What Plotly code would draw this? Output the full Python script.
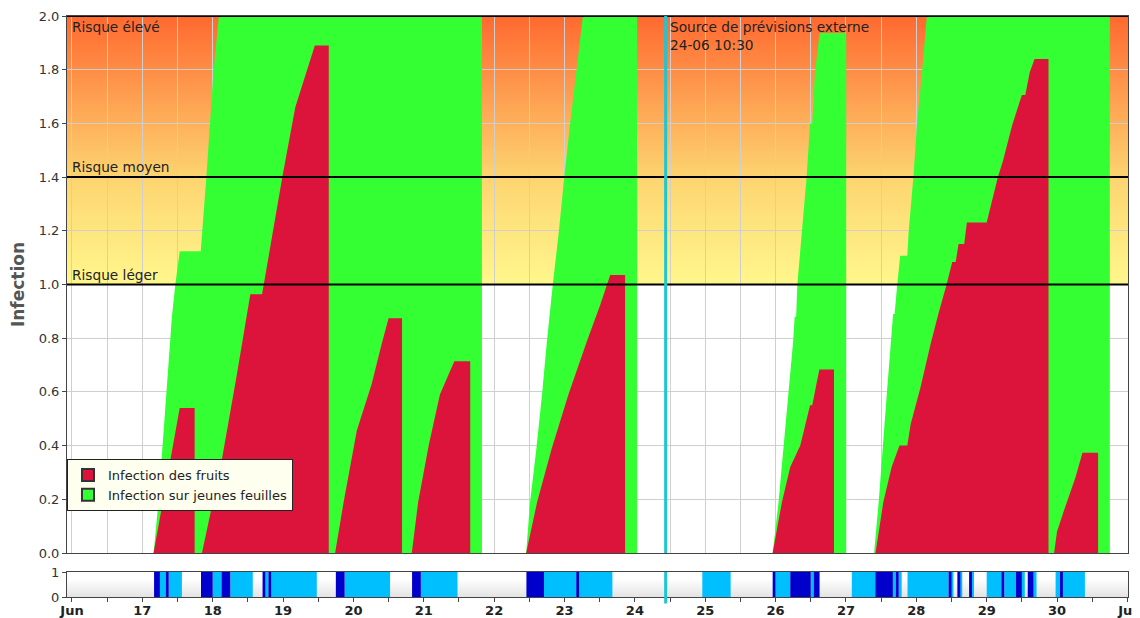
import plotly.graph_objects as go
import pandas as pd

# ---------------- data ----------------
fruit_t = [
    "2024-06-17 03:50", "2024-06-17 12:45", "2024-06-17 17:50", "2024-06-17 17:50",
    "2024-06-17 20:20", "2024-06-18 03:10", "2024-06-18 08:20", "2024-06-18 12:50", "2024-06-18 16:50",
    "2024-06-18 17:25", "2024-06-18 23:45", "2024-06-19 04:10", "2024-06-19 10:50", "2024-06-19 15:35", "2024-06-19 15:35",
    "2024-06-19 17:45", "2024-06-19 20:40", "2024-06-20 01:10", "2024-06-20 06:15", "2024-06-20 09:35",
    "2024-06-20 12:00", "2024-06-20 16:35", "2024-06-20 16:35",
    "2024-06-20 19:55", "2024-06-20 22:05", "2024-06-21 01:40", "2024-06-21 05:30", "2024-06-21 10:25",
    "2024-06-21 15:50", "2024-06-21 15:50",
    "2024-06-22 10:55", "2024-06-22 14:40", "2024-06-22 19:40", "2024-06-23 01:20", "2024-06-23 07:40",
    "2024-06-23 12:10", "2024-06-23 15:35", "2024-06-23 20:40", "2024-06-23 20:40",
    "2024-06-25 23:00", "2024-06-26 02:10", "2024-06-26 05:00", "2024-06-26 08:25", "2024-06-26 11:45",
    "2024-06-26 12:30", "2024-06-26 14:55", "2024-06-26 19:55", "2024-06-26 19:55",
    "2024-06-27 10:05", "2024-06-27 12:45", "2024-06-27 15:35", "2024-06-27 18:15", "2024-06-27 20:55",
    "2024-06-27 22:05", "2024-06-28 01:25", "2024-06-28 04:50", "2024-06-28 07:40", "2024-06-28 10:20",
    "2024-06-28 12:15", "2024-06-28 13:25", "2024-06-28 14:25", "2024-06-28 16:20", "2024-06-28 17:15",
    "2024-06-29 00:00", "2024-06-29 02:25", "2024-06-29 03:50", "2024-06-29 05:30", "2024-06-29 08:40",
    "2024-06-29 12:00", "2024-06-29 13:10", "2024-06-29 14:40", "2024-06-29 16:20", "2024-06-29 21:05",
    "2024-06-29 21:05",
    "2024-06-29 23:00", "2024-06-30 00:00", "2024-06-30 02:25", "2024-06-30 06:15", "2024-06-30 08:40",
    "2024-06-30 14:00", "2024-06-30 14:00",
]
fruit_v = [
    0, 0.54, 0.54, 0,
    0, 0.35, 0.67, 0.964, 0.964, 1.0, 1.4, 1.66, 1.89, 1.89, 0,
    0, 0.19, 0.456, 0.63, 0.777, 0.874, 0.874, 0,
    0, 0.19, 0.40, 0.59, 0.714, 0.714, 0,
    0, 0.19, 0.39, 0.59, 0.79, 0.924, 1.035, 1.035, 0,
    0, 0.19, 0.32, 0.40, 0.55, 0.55, 0.683, 0.683, 0,
    0, 0.19, 0.32, 0.40, 0.40, 0.48, 0.616, 0.777, 0.897, 1.0, 1.084, 1.084, 1.151, 1.151, 1.231,
    1.231, 1.338, 1.4, 1.458, 1.592, 1.706, 1.706, 1.79, 1.84, 1.84, 0,
    0, 0.08, 0.16, 0.28, 0.373, 0.373, 0,
]

leaf_t = [
    "2024-06-17 03:50", "2024-06-17 05:30", "2024-06-17 08:10", "2024-06-17 10:05", "2024-06-17 11:15",
    "2024-06-17 12:45", "2024-06-17 19:55", "2024-06-17 21:50", "2024-06-18 00:15", "2024-06-18 02:05",
    "2024-06-18 03:35", "2024-06-21 19:50", "2024-06-21 19:50",
    "2024-06-22 10:55", "2024-06-22 12:15", "2024-06-22 14:25", "2024-06-22 16:20", "2024-06-22 18:00",
    "2024-06-22 20:00", "2024-06-22 22:00", "2024-06-22 23:55", "2024-06-23 01:55", "2024-06-23 04:00",
    "2024-06-23 06:15", "2024-06-23 07:40", "2024-06-24 00:45", "2024-06-24 00:45",
    "2024-06-25 23:00", "2024-06-26 01:00", "2024-06-26 02:40", "2024-06-26 04:20", "2024-06-26 06:00",
    "2024-06-26 06:30", "2024-06-26 07:00", "2024-06-26 07:25", "2024-06-26 08:55", "2024-06-26 10:35",
    "2024-06-26 11:45", "2024-06-26 12:30", "2024-06-26 13:25", "2024-06-26 15:00", "2024-06-27 00:05",
    "2024-06-27 00:05",
    "2024-06-27 09:35", "2024-06-27 11:10", "2024-06-27 13:55", "2024-06-27 16:05", "2024-06-27 16:35",
    "2024-06-27 17:30", "2024-06-27 18:30", "2024-06-27 20:55", "2024-06-27 21:20", "2024-06-27 23:00",
    "2024-06-28 00:15", "2024-06-28 01:55", "2024-06-28 03:35", "2024-06-28 04:50", "2024-06-30 18:00",
    "2024-06-30 18:00",
]
leaf_v = [
    0, 0.19, 0.59, 0.88, 1.0, 1.124, 1.124, 1.4, 1.79, 2.0, 2.2, 2.2, 0,
    0, 0.19, 0.39, 0.59, 0.79, 1.0, 1.19, 1.4, 1.6, 1.79, 2.0, 2.2, 2.2, 0,
    0, 0.19, 0.39, 0.59, 0.79, 0.88, 0.88, 1.0, 1.19, 1.4, 1.6, 1.6, 1.79, 1.937, 1.937, 0,
    0, 0.19, 0.59, 0.89, 0.89, 1.0, 1.107, 1.107, 1.19, 1.4, 1.6, 1.79, 2.0, 2.2, 2.2, 0,
]

# wetness periods (bottom strip)
dark_start = ["2024-06-17 04:00", "2024-06-17 08:00", "2024-06-17 20:00", "2024-06-18 03:00", "2024-06-18 17:00",
              "2024-06-18 19:00", "2024-06-19 18:00", "2024-06-20 20:00", "2024-06-22 11:00", "2024-06-23 04:00",
              "2024-06-25 23:00", "2024-06-26 05:00", "2024-06-26 13:00", "2024-06-27 10:00", "2024-06-27 17:00",
              "2024-06-28 11:00", "2024-06-28 14:00", "2024-06-28 18:00", "2024-06-29 05:00", "2024-06-29 10:00",
              "2024-06-29 14:00", "2024-06-30 01:00"]
dark_end = ["2024-06-17 06:00", "2024-06-17 09:00", "2024-06-18 00:00", "2024-06-18 06:00", "2024-06-18 18:00",
            "2024-06-18 20:00", "2024-06-19 21:00", "2024-06-20 23:00", "2024-06-22 17:00", "2024-06-23 05:00",
            "2024-06-26 00:00", "2024-06-26 12:00", "2024-06-26 15:00", "2024-06-27 16:00", "2024-06-27 18:00",
            "2024-06-28 12:00", "2024-06-28 15:00", "2024-06-28 19:00", "2024-06-29 06:00", "2024-06-29 12:00",
            "2024-06-29 16:00", "2024-06-30 02:00"]
light_start = ["2024-06-17 06:00", "2024-06-17 09:00", "2024-06-18 00:00", "2024-06-18 06:00", "2024-06-18 18:00",
               "2024-06-18 20:00", "2024-06-19 21:00", "2024-06-20 23:00", "2024-06-22 17:00", "2024-06-23 05:00",
               "2024-06-24 23:00", "2024-06-26 00:00", "2024-06-26 12:00", "2024-06-27 02:00", "2024-06-27 16:00",
               "2024-06-27 18:00", "2024-06-27 21:00", "2024-06-28 12:00", "2024-06-28 15:00", "2024-06-28 19:00",
               "2024-06-29 00:00", "2024-06-29 06:00", "2024-06-29 12:00", "2024-06-29 16:00", "2024-06-29 23:30",
               "2024-06-30 02:00"]
light_end = ["2024-06-17 08:00", "2024-06-17 13:30", "2024-06-18 03:00", "2024-06-18 13:40", "2024-06-18 19:00",
             "2024-06-19 11:30", "2024-06-20 12:30", "2024-06-21 11:30", "2024-06-23 04:00", "2024-06-23 16:20",
             "2024-06-25 08:40", "2024-06-26 05:00", "2024-06-26 13:00", "2024-06-27 10:00", "2024-06-27 17:00",
             "2024-06-27 19:00", "2024-06-28 11:00", "2024-06-28 12:40", "2024-06-28 15:40", "2024-06-28 19:40",
             "2024-06-29 05:00", "2024-06-29 10:00", "2024-06-29 13:00", "2024-06-29 17:00", "2024-06-30 01:00",
             "2024-06-30 09:30"]

day_labels = ["Jun", "17", "18", "19", "20", "21", "22", "23", "24", "25", "26", "27", "28", "29", "30", "Jul"]
risk_levels = [1.0, 1.4, 2.0]
risk_labels = ["Risque léger", "Risque moyen", "Risque élevé"]
forecast_time = "2024-06-24 10:30"
forecast_label = "Source de prévisions externe<br>24-06 10:30"
series_names = ["Infection des fruits", "Infection sur jeunes feuilles"]
x_range = ["2024-06-15 22:18", "2024-07-01 00:12"]

# ---------------- styles ----------------
FONT = "DejaVu Sans"
RED = "#DC143C"
GREEN = "#33FF33"
DARK_BLUE = "#0000CC"
LIGHT_BLUE = "#00BFFF"
CYAN = "#1CC6D2"
GRID = "#CFCFCF"
AXIS = "#444444"

fig = go.Figure()

# areas
fig.add_trace(go.Scatter(x=pd.to_datetime(leaf_t), y=leaf_v, mode="none", fill="tozeroy",
                         fillcolor=GREEN, showlegend=False, hoverinfo="skip", xaxis="x", yaxis="y"))
fig.add_trace(go.Scatter(x=pd.to_datetime(fruit_t), y=fruit_v, mode="none", fill="tozeroy",
                         fillcolor=RED, showlegend=False, hoverinfo="skip", xaxis="x", yaxis="y"))

# legend entries
for name, col in zip(series_names, [RED, GREEN]):
    fig.add_trace(go.Scatter(x=[None], y=[None], mode="markers", name=name,
                             marker=dict(symbol="square", size=12, color=col, line=dict(width=1, color="#333333")),
                             xaxis="x", yaxis="y"))


def bars(starts, ends, color):
    s = pd.to_datetime(starts)
    e = pd.to_datetime(ends)
    centers = s + (e - s) / 2
    widths = [(b - a).total_seconds() * 1000 for a, b in zip(s, e)]
    return go.Bar(x=centers, y=[1] * len(s), width=widths, base=0, marker=dict(color=color, line=dict(width=0)),
                  showlegend=False, hoverinfo="skip", xaxis="x2", yaxis="y2")


fig.add_trace(bars(light_start, light_end, LIGHT_BLUE))
fig.add_trace(bars(dark_start, dark_end, DARK_BLUE))

shapes = []


def lerp(c1, c2, t):
    return tuple(round(a + (b - a) * t) for a, b in zip(c1, c2))


# gradient background in the risk zone
stops = [(risk_levels[0], (255, 247, 140)), (risk_levels[1], (253, 212, 112)), (risk_levels[2], (255, 105, 48))]
n = 100
step = (risk_levels[2] - risk_levels[0]) / n
for i in range(n):
    y0 = risk_levels[0] + i * step
    ym = y0 + step / 2
    for (a, ca), (b, cb) in zip(stops[:-1], stops[1:]):
        if a <= ym <= b:
            c = lerp(ca, cb, (ym - a) / (b - a))
            break
    shapes.append(dict(type="rect", xref="x domain", yref="y", x0=0, x1=1, y0=y0,
                       y1=min(y0 + step * 1.6, risk_levels[2]), fillcolor="rgb(%d,%d,%d)" % c,
                       line=dict(width=0), layer="below"))

# bottom strip gradient
m = 25
for i in range(m):
    t = i / m
    c = lerp((228, 228, 228), (255, 255, 255), min(1.0, t * 1.4))
    shapes.append(dict(type="rect", xref="x2 domain", yref="y2 domain", x0=0, x1=1, y0=t,
                       y1=min(t + 1.6 / m, 1), fillcolor="rgb(%d,%d,%d)" % c, line=dict(width=0), layer="below"))

# risk lines
for lv in risk_levels:
    shapes.append(dict(type="line", xref="x domain", yref="y", x0=0, x1=1, y0=lv, y1=lv,
                       line=dict(color="black", width=2), layer="above"))

# forecast source line
shapes.append(dict(type="line", xref="x", yref="y domain", x0=forecast_time, x1=forecast_time, y0=0, y1=1,
                   line=dict(color=CYAN, width=3), layer="above"))
shapes.append(dict(type="line", xref="x2", yref="y2 domain", x0=forecast_time, x1=forecast_time, y0=-0.26, y1=1,
                   line=dict(color=CYAN, width=3), layer="above"))

ANN_FONT = dict(family=FONT, size=13.7, color="#222222")
annotations = []
for lv, lab in zip(risk_levels, risk_labels):
    top = lv == risk_levels[-1]
    annotations.append(dict(xref="x domain", yref="y", x=0, y=lv, xshift=3, yshift=-1 if top else 0,
                            text=lab, showarrow=False, xanchor="left", yanchor="top" if top else "bottom",
                            font=ANN_FONT))
annotations.append(dict(xref="x", yref="y", x=forecast_time, y=risk_levels[-1], xshift=2, yshift=-1,
                        text=forecast_label, showarrow=False, xanchor="left", yanchor="top", align="left",
                        font=ANN_FONT))

# axis ticks
tick_pos = pd.date_range("2024-06-16", "2024-07-01", freq="12h")
tick_txt = []
k = 0
for t in tick_pos:
    if t.hour == 0:
        tick_txt.append("<b>%s</b>" % day_labels[k])
        k += 1
    else:
        tick_txt.append("")

# the page body adds an 8 px offset, so the figure is sized to fit the window
W, H = 1132, 610
ml, mr, mt, mb = 59, 12, 8, 21
ph = H - mt - mb
main_bottom = (581 - 537) / ph
strip_top = (581 - 556) / ph

fig.update_layout(
    width=W, height=H,
    margin=dict(l=ml, r=mr, t=mt, b=mb, autoexpand=False),
    paper_bgcolor="white", plot_bgcolor="white",
    font=dict(family=FONT, size=13, color="#333333"),
    barmode="overlay",
    shapes=shapes, annotations=annotations,
    showlegend=True,
    legend=dict(x=0, y=(581 - 443) / ph, xanchor="left", yanchor="top", bgcolor="#FFFFF0",
                bordercolor="#222222", borderwidth=1, font=dict(family=FONT, size=13, color="#222222"),
                itemsizing="constant", tracegroupgap=0, itemwidth=30),
    xaxis=dict(domain=[0, 1], anchor="y", range=x_range, type="date", tickmode="array", tickvals=tick_pos,
               showticklabels=False, ticks="", showgrid=True, gridcolor=GRID, gridwidth=1,
               showline=True, mirror=True, linecolor=AXIS, linewidth=1, zeroline=False, automargin=False),
    yaxis=dict(domain=[main_bottom, 1], anchor="x", range=[0, 2], dtick=0.2, tick0=0, tickformat=".1f",
               ticks="outside", ticklen=4, tickcolor=AXIS, showgrid=True, gridcolor=GRID, gridwidth=1,
               showline=True, mirror=True, linecolor=AXIS, linewidth=1, zeroline=False, automargin=False,
               tickfont=dict(family=FONT, size=13, color="#333333"),
               title=dict(text="<b>Infection</b>", font=dict(family=FONT, size=17, color="#555555"), standoff=9)),
    xaxis2=dict(domain=[0, 1], anchor="y2", range=x_range, type="date", matches="x", tickmode="array",
                tickvals=tick_pos, ticktext=tick_txt, ticks="outside", ticklen=4, tickcolor=AXIS,
                showgrid=False, showline=True, mirror=True, linecolor=AXIS, linewidth=1, zeroline=False,
                automargin=False, ticklabeloverflow="allow", ticklabelstandoff=-3,
                tickfont=dict(family=FONT, size=13, color="#222222")),
    yaxis2=dict(domain=[0, strip_top], anchor="x2", range=[0, 1], tickvals=[0, 1], ticktext=["0", "1"],
                ticks="outside", ticklen=4, tickcolor=AXIS, showgrid=False, showline=True, mirror=True,
                linecolor=AXIS, linewidth=1, zeroline=False, automargin=False,
                tickfont=dict(family=FONT, size=13, color="#333333")),
)

fig.write_html("out.html")
